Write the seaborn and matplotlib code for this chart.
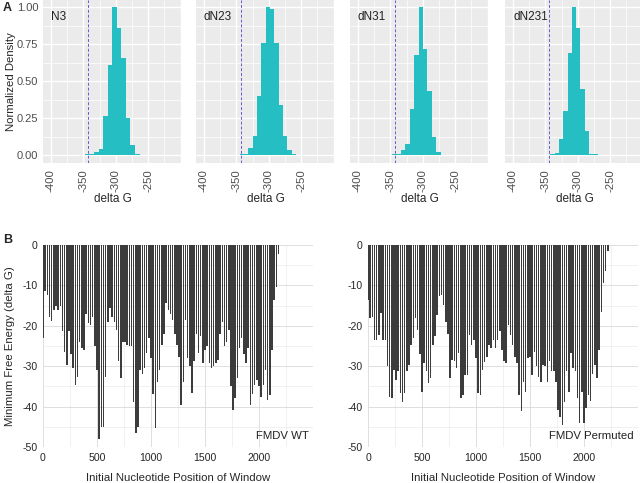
import numpy as np
import pandas as pd
import matplotlib
matplotlib.use("Agg")
import matplotlib.pyplot as plt
import seaborn as sns
from matplotlib.ticker import MultipleLocator

sns.set_theme(style="white")
plt.rcParams['font.family'] = ['Liberation Sans', 'DejaVu Sans']

# ---- panel A: normalized delta G distributions ----
hist_names = ["N3", "dN23", "dN31", "dN231"]
hist_start = [-347.4, -344.9, -347.1, -348.6]   # left edge of first bin
hist_width = [7.0, 6.7, 6.8, 6.6]
n3_density = [0.004, 0.005, 0.023, 0.04, 0.264, 0.61, 1.0, 0.858, 0.655, 0.248, 0.068, 0.005]
dn23_density = [0.004, 0.006, 0.05, 0.13, 0.40, 0.76, 1.0, 0.99, 0.76, 0.34, 0.13, 0.034, 0.005]
dn31_density = [0.004, 0.005, 0.034, 0.075, 0.31, 0.68, 1.0, 0.72, 0.43, 0.12, 0.02]
dn231_density = [0.003, 0.004, 0.015, 0.106, 0.30, 0.69, 1.0, 0.86, 0.45, 0.16, 0.005, 0.004]
wt_line = [-343, -343, -343, -345]

# ---- panel B: minimum free energy per window ----
window_step = 20
wt_dg = [
    -23, -11.5, -12.3, -17.7, -18.8, -16, -15.2, -16, -15, -21.4,
    -26.5, -29.7, -21.4, -27, -30.5, -34.6, -32.6, -24, -25.5, -26,
    -17, -19.3, -19.8, -17.7, -25, -31, -47.9, -45, -45, -32.6,
    -19, -15.6, -17.7, -19, -21, -28.8, -33, -24, -23.9, -24.7,
    -25, -25.1, -38.8, -46.6, -45, -31, -32, -30.5, -26.8, -23,
    -28, -37, -45.4, -33.8, -31, -24.7, -22, -14.4, -16, -17,
    -18.5, -22, -24.7, -27.6, -39.6, -33.8, -18.5, -28, -30, -36.7,
    -28.8, -22, -26.8, -22.6, -29.3, -26, -25, -29.3, -30.5, -30,
    -29.3, -28.4, -22, -19, -25, -23.9, -21, -35, -40.8, -37.9,
    -33, -25.5, -23, -27, -29.3, -25.5, -39.6, -37, -34.6, -33.4,
    -35, -37.5, -34.6, -31, -38.3, -37.1, -26, -13.6, -10.3, -2.2,
]
perm_dg = [
    -13.5, -18, -17.7, -23.5, -23.5, -22.2, -16.9, -23.5, -23.5, -30,
    -37.5, -37.9, -31, -33.4, -31.3, -36.7, -38.8, -36.7, -31.3, -29.7,
    -24.7, -23, -18, -21, -27, -36.3, -29.3, -31.3, -34.2, -33,
    -24.7, -22.6, -17.3, -12.7, -12.3, -14.8, -19, -22, -32.8, -28.4,
    -28.8, -30.5, -26.8, -37.9, -37.1, -32.1, -32.1, -22.2, -24.7, -23.5,
    -28, -36.7, -37.1, -30.9, -29, -27.6, -24.7, -25.5, -23.5, -25.5,
    -23.5, -21.4, -26, -28.8, -29.3, -19.8, -22.2, -24.7, -27.6, -29.3,
    -37.1, -41.2, -33.8, -36.3, -28, -27.6, -32.1, -26.4, -30, -32.6,
    -33.8, -29.7, -30, -33.8, -28.8, -31.3, -31.3, -33.8, -40.8, -42.5,
    -44.5, -38.8, -31.3, -36.3, -26.8, -30.5, -31.3, -37.9, -44.1, -36.3,
    -44.1, -40.4, -37.1, -38.5, -32, -29.7, -33, -26, -16.5, -9.5,
    -6.4, -1.6,
]
bottom_names = ["FMDV WT", "FMDV Permuted"]

W, H = 640, 483
fig = plt.figure(figsize=(W / 100, H / 100), dpi=100)


def px_axes(left, top, w, h):
    return fig.add_axes([left / W, 1 - (top + h) / H, w / W, h / H])


teal = "#25BFC3"
densities = [n3_density, dn23_density, dn31_density, dn231_density]
top_lefts = [43, 196, 350, 505]

for i, name in enumerate(hist_names):
    ax = px_axes(top_lefts[i], 0, 139, 163)
    ax.set_facecolor("#EBEBEB")
    hts = np.array(densities[i])
    edges = hist_start[i] + hist_width[i] * np.arange(len(hts) + 1)
    df = pd.DataFrame({"dg": edges[:-1] + hist_width[i] / 2, "w": hts})
    sns.histplot(data=df, x="dg", weights="w", bins=edges.tolist(), color=teal,
                 alpha=1, linewidth=0, ax=ax)
    ax.axvline(wt_line[i], color="#6A5ACD", ls=(0, (3, 2)), lw=0.7)
    ax.set_xlim(-412, -198)
    ax.set_ylim(-0.054, 1.049)
    ax.set_xticks([-400, -350, -300, -250, -200])
    ax.set_xticklabels(["-400", "-350", "-300", "-250", ""], rotation=90,
                       fontsize=8.2, color="#4D4D4D")
    ax.xaxis.set_minor_locator(MultipleLocator(25))
    ax.set_yticks([0, 0.25, 0.5, 0.75, 1.0])
    ax.yaxis.set_minor_locator(MultipleLocator(0.125))
    ax.set_axisbelow(True)
    ax.grid(which="major", color="white", lw=1.0)
    ax.grid(which="minor", color="white", lw=0.5)
    for s in ax.spines.values():
        s.set_visible(False)
    ax.tick_params(axis="x", which="major", length=2.5, width=0.5, color="#333333", pad=2)
    ax.tick_params(which="minor", length=0)
    if i == 0:
        ax.set_yticklabels(["0.00", "0.25", "0.50", "0.75", "1.00"], fontsize=8, color="#4D4D4D")
        ax.tick_params(axis="y", which="major", length=2, width=0.5, color="#333333", pad=1.5)
        ax.set_ylabel("Normalized Density", fontsize=8.2)
        ax.yaxis.set_label_coords((16 - 43) / 139, 0.5)
    else:
        ax.set_yticklabels([])
        ax.tick_params(axis="y", which="major", length=0)
        ax.set_ylabel("")
    ax.set_xlabel("delta G", fontsize=8.5)
    ax.xaxis.set_label_coords(0.5, -(193 - 163) / 163)
    ax.text(8 / 139, 1 - 11 / 163, name, transform=ax.transAxes, fontsize=8.5,
            va="top", ha="left", color="#222222")

bottom_sets = [wt_dg, perm_dg]
bottom_lefts = [43, 368]
for i, vals in enumerate(bottom_sets):
    ax = px_axes(bottom_lefts[i], 245, 270, 202)
    pos = np.arange(len(vals)) * window_step
    sns.barplot(x=pos, y=vals, native_scale=True, color="#3C3C3C", width=0.72,
                saturation=1, errorbar=None, linewidth=0, ax=ax)
    ax.set_xlim(0, 2500)
    ax.set_ylim(-50, 0)
    ax.set_xticks([0, 500, 1000, 1500, 2000])
    ax.set_xticklabels(["0", "500", "1000", "1500", "2000"], fontsize=7.6)
    ax.set_yticks([0, -10, -20, -30, -40, -50])
    ax.set_yticklabels(["0", "-10", "-20", "-30", "-40", "-50"], fontsize=7.6)
    ax.xaxis.set_minor_locator(MultipleLocator(250))
    ax.yaxis.set_minor_locator(MultipleLocator(5))
    ax.set_axisbelow(True)
    ax.grid(which="major", color="#D9D9D9", lw=0.6)
    ax.grid(which="minor", color="#EBEBEB", lw=0.5)
    for s in ax.spines.values():
        s.set_visible(False)
    ax.tick_params(which="major", direction="in", length=2, width=0.6, color="#222222", pad=4)
    ax.tick_params(which="minor", length=0)
    ax.set_xlabel("Initial Nucleotide Position of Window", fontsize=8.2)
    ax.xaxis.set_label_coords(0.5, -(473 - 447) / 202)
    if i == 0:
        ax.set_ylabel("Minimum Free Energy (delta G)", fontsize=8.2)
        ax.yaxis.set_label_coords((15 - 43) / 270, 0.5)
    else:
        ax.set_ylabel("")
    ax.text(0.985, 0.055, bottom_names[i], transform=ax.transAxes, fontsize=8.2,
            ha="right", va="center", color="#222222")

fig.text(3 / W, 1 - 8 / H, "A", fontsize=9, fontweight="bold", va="center", ha="left")
fig.text(3 / W, 1 - 240 / H, "B", fontsize=9, fontweight="bold", va="center", ha="left")

fig.savefig("out.png", dpi=100)
